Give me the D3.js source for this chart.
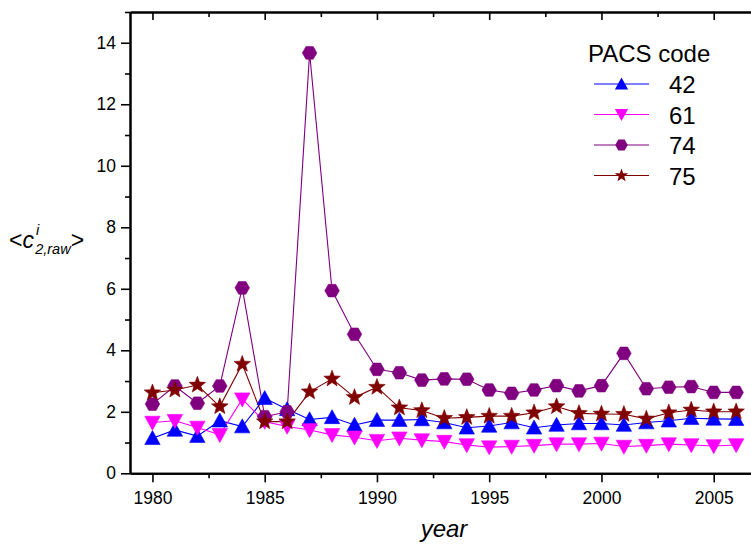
<!DOCTYPE html>
<html>
<head>
<meta charset="utf-8">
<script src="https://cdn.jsdelivr.net/npm/d3@7"></script>
<style>
  body { margin: 0; background: #fff; }
  svg { font-family: "Liberation Sans", Arial, sans-serif; }
</style>
</head>
<body>
<div class="canvas"></div>
<script>
// data
const years = d3.range(1980, 2007);
const codes = ['42', '61', '74', '75'];
const pacs42 = [1.14, 1.41, 1.21, 1.71, 1.52, 2.44, 2.08, 1.75, 1.82, 1.57, 1.73, 1.73, 1.75, 1.65, 1.48, 1.54, 1.65, 1.48, 1.57, 1.62, 1.62, 1.57, 1.65, 1.71, 1.79, 1.77, 1.76];
const pacs61 = [1.65, 1.71, 1.49, 1.25, 2.41, 1.68, 1.52, 1.41, 1.25, 1.17, 1.06, 1.14, 1.08, 1.03, 0.92, 0.85, 0.87, 0.9, 0.95, 0.95, 0.97, 0.87, 0.9, 0.95, 0.92, 0.89, 0.92];
const pacs74 = [2.25, 2.84, 2.28, 2.84, 6.03, 1.84, 2.0, 13.67, 5.94, 4.52, 3.38, 3.27, 3.03, 3.07, 3.06, 2.71, 2.6, 2.71, 2.85, 2.68, 2.85, 3.9, 2.75, 2.8, 2.82, 2.63, 2.63];
const pacs75 = [2.62, 2.71, 2.87, 2.17, 3.55, 1.68, 1.68, 2.65, 3.07, 2.47, 2.8, 2.13, 2.04, 1.79, 1.82, 1.86, 1.86, 1.97, 2.17, 1.95, 1.93, 1.92, 1.77, 1.97, 2.06, 2.0, 2.0];
const xTicks = [1980, 1985, 1990, 1995, 2000, 2005];
const yTicks = [0, 2, 4, 6, 8, 10, 12, 14];

const series = [
  { name: codes[0], values: pacs42, colour: '#0000ff', symbol: 'up' },
  { name: codes[1], values: pacs61, colour: '#ff00ff', symbol: 'down' },
  { name: codes[2], values: pacs74, colour: '#800080', symbol: 'hex' },
  { name: codes[3], values: pacs75, colour: '#800000', symbol: 'star' },
];

const dims = { width: 751, height: 546 };
const box = { left: 130, top: 12, bottom: 473.3 };

const svg = d3
  .select('.canvas')
  .append('svg')
  .attr('width', dims.width)
  .attr('height', dims.height);

const x = d3.scaleLinear().domain([1979, 2007]).range([box.left, 130 + 28 * 22.45]);
const y = d3.scaleLinear().domain([0, 15]).range([box.bottom, box.top]);

// marker shapes drawn around 0,0
const markerPath = (type, s) => {
  if (type === 'up') {
    return `M0,${-s * 0.55}L${s * 0.55},${s * 0.45}L${-s * 0.55},${s * 0.45}Z`;
  }
  if (type === 'down') {
    return `M0,${s * 0.55}L${s * 0.55},${-s * 0.45}L${-s * 0.55},${-s * 0.45}Z`;
  }
  if (type === 'hex') {
    const r = s * 0.52;
    const pts = d3.range(6).map((k) => {
      const a = (Math.PI / 3) * k;
      return [r * Math.cos(a), r * Math.sin(a)];
    });
    return 'M' + pts.join('L') + 'Z';
  }
  // star
  const ro = s * 0.58;
  const ri = ro * 0.42;
  const pts = d3.range(10).map((k) => {
    const a = (Math.PI / 5) * k - Math.PI / 2;
    const r = k % 2 === 0 ? ro : ri;
    return [r * Math.cos(a), r * Math.sin(a)];
  });
  return 'M' + pts.join('L') + 'Z';
};

// frame + axes
const xMinor = d3.range(1982.5, 2007, 5);
const yMinor = d3.range(1, 16, 2);

const bottomAxis = svg.append('g').attr('transform', `translate(0, ${box.bottom})`);
bottomAxis.call(d3.axisBottom(x).tickValues(xTicks).tickFormat(d3.format('d')).tickSize(9).tickSizeOuter(0));
bottomAxis.append('g').call(d3.axisBottom(x).tickValues(xMinor).tickFormat('').tickSize(5).tickSizeOuter(0));

const topAxis = svg.append('g').attr('transform', `translate(0, ${box.top})`);
topAxis.call(d3.axisBottom(x).tickValues(xTicks).tickFormat('').tickSize(8).tickSizeOuter(0));
topAxis.append('g').call(d3.axisBottom(x).tickValues(xMinor).tickFormat('').tickSize(5).tickSizeOuter(0));

const leftAxis = svg.append('g').attr('transform', `translate(${box.left}, 0)`);
leftAxis.call(d3.axisLeft(y).tickValues(yTicks).tickSize(9).tickPadding(5).tickSizeOuter(0));
leftAxis.append('g').call(d3.axisLeft(y).tickValues(yMinor).tickFormat('').tickSize(5).tickSizeOuter(0));

const rightAxis = svg.append('g').attr('transform', `translate(${x(2007)}, 0)`);
rightAxis.call(d3.axisLeft(y).tickValues(yTicks).tickFormat('').tickSize(-8).tickSizeOuter(0));
rightAxis.append('g').call(d3.axisLeft(y).tickValues(yMinor).tickFormat('').tickSize(-5).tickSizeOuter(0));

svg.selectAll('.domain').attr('stroke', '#000').attr('stroke-width', 2);
svg.selectAll('.tick line').attr('stroke', '#000').attr('stroke-width', 1.6);
svg.selectAll('.tick text').attr('font-size', 17.5).attr('fill', '#000')
  .attr('font-family', '"Liberation Sans", Arial, sans-serif');
bottomAxis.selectAll('.tick text').attr('dy', '1.05em');

// lines + markers
const line = d3
  .line()
  .x((d, i) => x(years[i]))
  .y((d) => y(d));

const plot = svg.append('g');
series.forEach((s) => {
  plot
    .append('path')
    .attr('d', line(s.values))
    .attr('fill', 'none')
    .attr('stroke', s.colour)
    .attr('stroke-width', 1.1);
});
series.forEach((s) => {
  plot
    .append('g')
    .selectAll('path')
    .data(s.values)
    .enter()
    .append('path')
    .attr('transform', (d, i) => `translate(${x(years[i])}, ${y(d)})`)
    .attr('d', markerPath(s.symbol, s.symbol === 'star' ? 15 : 14))
    .attr('fill', s.colour)
    .attr('stroke', s.colour)
    .attr('stroke-width', 0.6);
});

// legend
const legend = svg.append('g');
legend
  .append('text')
  .attr('x', 588)
  .attr('y', 62)
  .attr('font-size', 24)
  .text('PACS code');

const entry = legend
  .selectAll('g.entry')
  .data(series)
  .enter()
  .append('g')
  .attr('class', 'entry')
  .attr('transform', (d, i) => `translate(0, ${84 + i * 30.5})`);

entry
  .append('line')
  .attr('x1', 594)
  .attr('x2', 649)
  .attr('stroke', (d) => d.colour)
  .attr('stroke-width', 1.1);
entry
  .append('path')
  .attr('transform', 'translate(621.5, 0)')
  .attr('d', (d) => markerPath(d.symbol, 12))
  .attr('fill', (d) => d.colour);
entry
  .append('text')
  .attr('x', 669)
  .attr('y', 9)
  .attr('font-size', 24)
  .text((d) => d.name);

// axis titles
svg
  .append('text')
  .attr('x', 444)
  .attr('y', 537)
  .attr('text-anchor', 'middle')
  .attr('font-size', 24)
  .attr('font-style', 'italic')
  .text('year');

const yTitle = svg.append('text').attr('x', 9).attr('y', 248).attr('font-size', 23);
yTitle.append('tspan').text('<');
yTitle.append('tspan').attr('font-style', 'italic').text('c');
yTitle.append('tspan').attr('font-style', 'italic').attr('font-size', 14.5).attr('dx', 2).attr('dy', -13).text('i');
yTitle.append('tspan').attr('font-style', 'italic').attr('font-size', 14.5).attr('dx', -4).attr('dy', 19).text('2,raw');
yTitle.append('tspan').attr('dy', -6).text('>');
</script>
</body>
</html>
